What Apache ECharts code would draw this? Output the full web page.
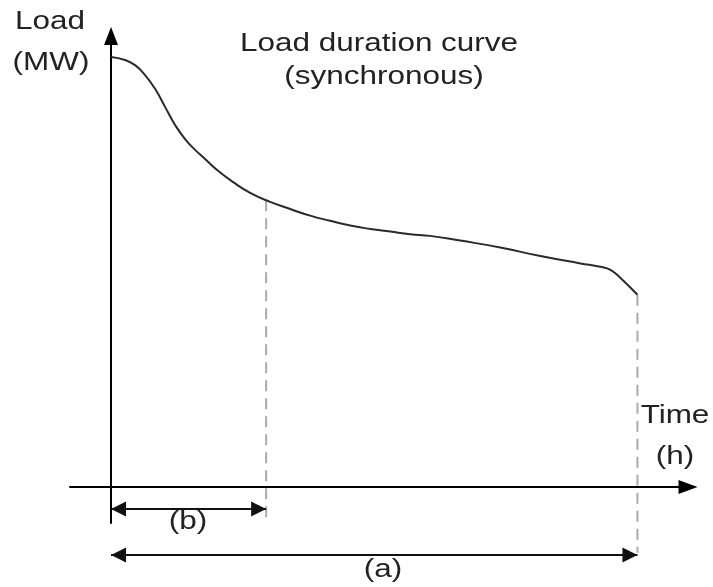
<!DOCTYPE html>
<html>
<head>
<meta charset="utf-8">
<script src="https://cdn.jsdelivr.net/npm/echarts@6/dist/echarts.min.js"></script>
<style>html,body{margin:0;padding:0;background:#fff}#c{width:713px;height:587px}</style>
</head>
<body>
<div id="c"></div>
<script>
// Load duration curve: time (h) vs load (MW)
const curveHours = [0, 233, 400, 566, 733, 899, 1066, 1232, 1399, 1565, 1765, 2032, 2315, 2648, 2981, 3314, 3647, 3980, 4313, 4646, 4980, 5313, 5812, 6478, 7145, 7811, 8144, 8310, 8477, 8760];
const curveLoad  = [100.0, 99.3, 98.1, 95.8, 92.6, 88.4, 84.2, 80.9, 78.4, 76.3, 73.7, 70.9, 68.4, 66.3, 64.65, 63.1, 61.9, 60.8, 60.0, 59.4, 58.8, 58.4, 57.3, 55.7, 53.7, 52.0, 51.2, 50.5, 48.6, 44.7];
// Markers: (b) and (a) durations in hours
const markerHours = [2581, 8760];
const markerLabels = ['(b)', '(a)'];
const markerTopLoad = [66.7, 44.7];
const markerBottomLoad = [-8.4, -15.3];
const dimensionLoad = [-5.1, -15.8];
// Axis ranges
const xRange = [-682.8, 9601];
const yRange = [-8.372, 104.88];
const yRangeAux = [-18.60, 104.88];

const chart = echarts.init(document.getElementById('c'));
const FONT = '26px "Liberation Sans", Arial, sans-serif';
const SX = 1.21;
function txt(text, x, y) {
  return { type: 'text', x: x, y: y, scaleX: SX, style: { text: text, font: FONT, fill: '#222', align: 'center', verticalAlign: 'middle' } };
}
const curve = curveHours.map((h, i) => [h, curveLoad[i]]);
const series = [{
  type: 'line', data: curve, smooth: 0.5, showSymbol: false, silent: true,
  lineStyle: { color: '#2a2a2a', width: 2 }, z: 5
}];
markerHours.forEach((h, i) => {
  series.push({
    type: 'line', xAxisIndex: 1, yAxisIndex: 1,
    data: [[h, markerTopLoad[i]], [h, markerBottomLoad[i]]], showSymbol: false, silent: true,
    lineStyle: { color: '#aaa', width: 2, type: [11, 7] }, z: 3
  });
  series.push({
    type: 'line', xAxisIndex: 1, yAxisIndex: 1, data: [], silent: true,
    markLine: {
      silent: true, symbol: ['triangle', 'triangle'], symbolSize: [15, 15],
      symbolOffset: [[0, 7.5], [0, 7.5]],
      lineStyle: { color: '#111', width: 2, type: 'solid' }, label: { show: false },
      data: [[{ coord: [0, dimensionLoad[i]] }, { coord: [h, dimensionLoad[i]] }]]
    }
  });
});
const hiddenAxis = (range, gi) => ({ type: 'value', gridIndex: gi, min: range[0], max: range[1], show: false, splitLine: { show: false } });
chart.setOption({
  animation: false,
  grid: [
    { left: 70, right: 25, top: 36, bottom: 64 },
    { left: 70, right: 25, top: 36, bottom: 20 }
  ],
  xAxis: [{
    type: 'value', min: xRange[0], max: xRange[1],
    axisLine: { onZero: true, lineStyle: { color: '#000', width: 2 }, symbol: ['none', 'triangle'], symbolSize: [14, 19] },
    axisTick: { show: false }, axisLabel: { show: false }, splitLine: { show: false }
  }, hiddenAxis(xRange, 1)],
  yAxis: [{
    type: 'value', min: yRange[0], max: yRange[1],
    axisLine: { show: true, onZero: true, lineStyle: { color: '#000', width: 2 }, symbol: ['none', 'triangle'], symbolSize: [14, 18] },
    axisTick: { show: false }, axisLabel: { show: false }, splitLine: { show: false }
  }, hiddenAxis(yRangeAux, 1)],
  series: series,
  graphic: [
    txt('Load', 50, 22), txt('(MW)', 51, 63),
    txt('Load duration curve', 379, 44), txt('(synchronous)', 384, 77),
    txt('Time', 675, 416), txt('(h)', 675, 457),
    txt(markerLabels[0], 188, 522), txt(markerLabels[1], 383, 570)
  ]
});
</script>
</body>
</html>
